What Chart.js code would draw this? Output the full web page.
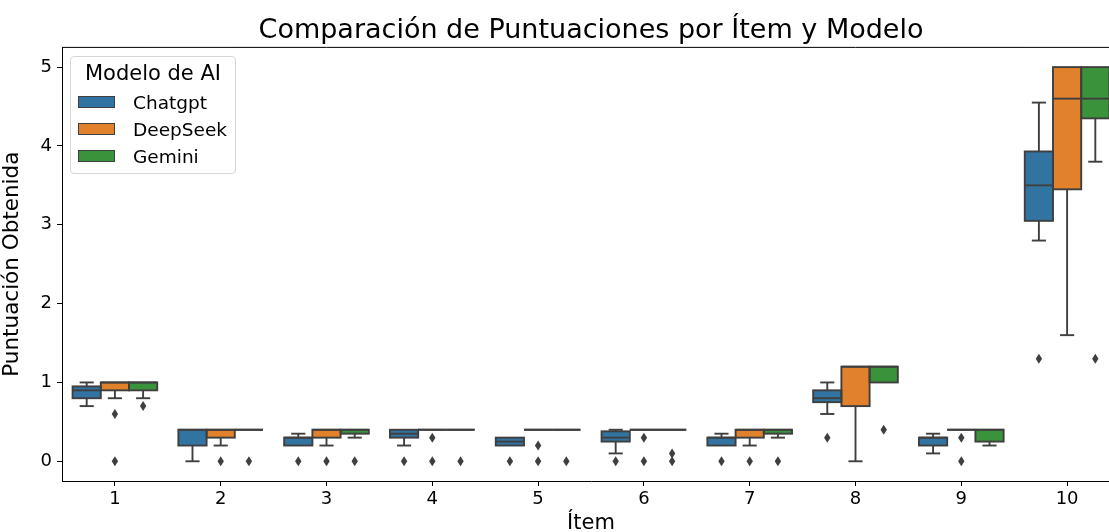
<!DOCTYPE html>
<html>
<head>
<meta charset="utf-8">
<script src="https://cdn.jsdelivr.net/npm/chart.js@4.4.1/dist/chart.umd.min.js"></script>
<style>
    html, body { margin: 0; padding: 0; background: #fff; overflow: hidden; }
    #wrap { position: relative; width: 1109px; height: 532px; overflow: hidden; }
    #chart { position: absolute; left: 0; top: 0; }
    #legend {
        position: absolute; left: 70px; top: 56px; width: 164px; height: 116px;
        border: 1px solid #d6d6d6; border-radius: 4px; background: rgba(255,255,255,0.8);
        font-family: 'DejaVu Sans', sans-serif; color: #000;
    }
    #legend .title { position: absolute; left: 0; width: 100%; top: 3px; text-align: center; font-size: 21px; line-height: 26px; }
    #legend .row { position: absolute; left: 7px; height: 22px; }
    #legend .swatch { position: absolute; left: 0; top: 4px; width: 37px; height: 12px; border: 1px solid #3f3f3f; box-sizing: border-box; }
    #legend .label { position: absolute; left: 55px; top: 0; font-size: 18.5px; line-height: 22px; white-space: nowrap; }
</style>
</head>
<body>
<div id="wrap">
    <canvas id="chart" width="1122" height="540"></canvas>
    <div id="legend"></div>
</div>
<script>
const items = ['1', '2', '3', '4', '5', '6', '7', '8', '9', '10'];
const models = ['Chatgpt', 'DeepSeek', 'Gemini'];
const colors = ['#3274a1', '#e1812c', '#3a923a'];
const yTicks = [0, 1, 2, 3, 4, 5];

// box stats, one array per model
const chatgptQ1   = [0.8, 0.2, 0.2, 0.3, 0.2, 0.25, 0.2, 0.75, 0.2, 3.05];
const chatgptMed  = [0.9, 0.4, 0.3, 0.35, 0.25, 0.3, 0.3, 0.8, 0.3, 3.5];
const chatgptQ3   = [0.95, 0.4, 0.3, 0.4, 0.3, 0.38, 0.3, 0.9, 0.3, 3.93];
const chatgptLow  = [0.7, 0, 0.2, 0.2, 0.2, 0.1, 0.2, 0.6, 0.1, 2.8];
const chatgptHigh = [1.0, 0.4, 0.35, 0.4, 0.3, 0.4, 0.35, 1.0, 0.35, 4.55];
const chatgptOut  = [[], [], [0], [0], [0], [0], [0], [0.3], [], [1.3]];

const deepseekQ1   = [0.9, 0.3, 0.3, 0.4, 0.4, 0.4, 0.3, 0.7, 0.4, 3.45];
const deepseekMed  = [1.0, 0.4, 0.4, 0.4, 0.4, 0.4, 0.4, 1.2, 0.4, 4.6];
const deepseekQ3   = [1.0, 0.4, 0.4, 0.4, 0.4, 0.4, 0.4, 1.2, 0.4, 5.0];
const deepseekLow  = [0.8, 0.2, 0.2, 0.4, 0.4, 0.4, 0.2, 0, 0.4, 1.6];
const deepseekHigh = [1.0, 0.4, 0.4, 0.4, 0.4, 0.4, 0.4, 1.2, 0.4, 5.0];
const deepseekOut  = [[0.6, 0], [0], [0], [0.3, 0], [0.2, 0], [0.3, 0], [0], [], [0.3, 0], []];

const geminiQ1   = [0.9, 0.4, 0.35, 0.4, 0.4, 0.4, 0.35, 1.0, 0.25, 4.35];
const geminiMed  = [1.0, 0.4, 0.4, 0.4, 0.4, 0.4, 0.4, 1.2, 0.4, 4.6];
const geminiQ3   = [1.0, 0.4, 0.4, 0.4, 0.4, 0.4, 0.4, 1.2, 0.4, 5.0];
const geminiLow  = [0.8, 0.4, 0.3, 0.4, 0.4, 0.4, 0.3, 1.0, 0.2, 3.8];
const geminiHigh = [1.0, 0.4, 0.4, 0.4, 0.4, 0.4, 0.4, 1.2, 0.4, 5.0];
const geminiOut  = [[0.7], [0], [0], [0], [0], [0.1, 0], [0], [0.4], [], [1.3]];

const q1 = [chatgptQ1, deepseekQ1, geminiQ1];
const med = [chatgptMed, deepseekMed, geminiMed];
const q3 = [chatgptQ3, deepseekQ3, geminiQ3];
const low = [chatgptLow, deepseekLow, geminiLow];
const high = [chatgptHigh, deepseekHigh, geminiHigh];
const outliers = [chatgptOut, deepseekOut, geminiOut];

const lineGray = '#3f3f3f';
const FONT = "'DejaVu Sans', sans-serif";

// box edges, whiskers, medians, fliers and the top spine
const boxExtras = {
    id: 'boxExtras',
    afterDatasetsDraw(chart) {
        const ctx = chart.ctx;
        const y = chart.scales.y;
        const line = (x1, y1, x2, y2) => {
            ctx.beginPath();
            ctx.moveTo(x1, y1);
            ctx.lineTo(x2, y2);
            ctx.stroke();
        };
        ctx.save();
        ctx.strokeStyle = lineGray;
        ctx.fillStyle = lineGray;
        ctx.lineWidth = 1.9;
        models.forEach((name, m) => {
            const meta = chart.getDatasetMeta(m);
            meta.data.forEach((bar, i) => {
                const cx = bar.x;
                const half = bar.width / 2;
                const cap = half / 2;
                const yq1 = y.getPixelForValue(q1[m][i]);
                const yq3 = y.getPixelForValue(q3[m][i]);
                if (high[m][i] > q3[m][i]) {
                    const yh = y.getPixelForValue(high[m][i]);
                    line(cx, yq3, cx, yh);
                    line(cx - cap, yh, cx + cap, yh);
                }
                if (low[m][i] < q1[m][i]) {
                    const yl = y.getPixelForValue(low[m][i]);
                    line(cx, yq1, cx, yl);
                    line(cx - cap, yl, cx + cap, yl);
                }
                ctx.strokeRect(cx - half, yq3, half * 2, yq1 - yq3);
                const ym = y.getPixelForValue(med[m][i]);
                line(cx - half, ym, cx + half, ym);
                outliers[m][i].forEach(v => {
                    const py = y.getPixelForValue(v);
                    ctx.beginPath();
                    ctx.moveTo(cx, py - 5);
                    ctx.lineTo(cx + 3.2, py);
                    ctx.lineTo(cx, py + 5);
                    ctx.lineTo(cx - 3.2, py);
                    ctx.closePath();
                    ctx.fill();
                });
            });
        });
        const area = chart.chartArea;
        ctx.strokeStyle = '#000';
        ctx.lineWidth = 1;
        line(area.left, area.top, area.right, area.top);
        line(area.right, area.top, area.right, area.bottom);
        ctx.restore();
    }
};

const datasets = models.map((name, m) => ({
    label: name,
    data: items.map((_, i) => [q1[m][i], q3[m][i]]),
    backgroundColor: colors[m],
    borderWidth: 0,
    categoryPercentage: 0.8,
    barPercentage: 1.0
}));

new Chart(document.getElementById('chart'), {
    type: 'bar',
    data: { labels: items, datasets: datasets },
    plugins: [boxExtras],
    options: {
        responsive: false,
        animation: false,
        layout: { padding: { left: 0, right: 2, top: 0, bottom: 0 } },
        plugins: {
            legend: { display: false },
            tooltip: { enabled: false },
            title: {
                display: true,
                fullSize: false,
                text: 'Comparación de Puntuaciones por Ítem y Modelo',
                color: '#000',
                font: { family: FONT, size: 27, weight: 'normal', lineHeight: 1.2 },
                padding: { top: 15, bottom: 0 }
            }
        },
        scales: {
            x: {
                offset: true,
                grid: { display: true, drawOnChartArea: false, offset: false, tickLength: 5, color: '#000' },
                border: { color: '#000', width: 1 },
                ticks: { color: '#000', padding: 3, font: { family: FONT, size: 18 } },
                title: {
                    display: true, text: 'Ítem', color: '#000',
                    font: { family: FONT, size: 21, lineHeight: 1.2 },
                    padding: { top: 0, bottom: 4 }
                },
                afterFit: s => { s.height = 59; }
            },
            y: {
                min: -0.25,
                max: 5.25,
                afterBuildTicks: s => { s.ticks = yTicks.map(v => ({ value: v })); },
                grid: { display: true, drawOnChartArea: false, tickLength: 5, color: '#000' },
                border: { color: '#000', width: 1 },
                ticks: { color: '#000', padding: 5, font: { family: FONT, size: 18 } },
                title: {
                    display: true, text: 'Puntuación Obtenida', color: '#000',
                    font: { family: FONT, size: 21.5, lineHeight: 1.2 },
                    padding: { top: 0, bottom: 0 }
                },
                afterFit: s => { s.width = 62; }
            }
        }
    }
});

// legend box drawn as html, inside the axes like the original
const legendEl = document.getElementById('legend');
legendEl.innerHTML = '<div class="title">Modelo de AI</div>';
models.forEach((name, m) => {
    const row = document.createElement('div');
    row.className = 'row';
    row.style.top = (35 + m * 27) + 'px';
    row.innerHTML = '<div class="swatch" style="background:' + colors[m] + '"></div><div class="label">' + name + '</div>';
    legendEl.appendChild(row);
});
</script>
</body>
</html>
